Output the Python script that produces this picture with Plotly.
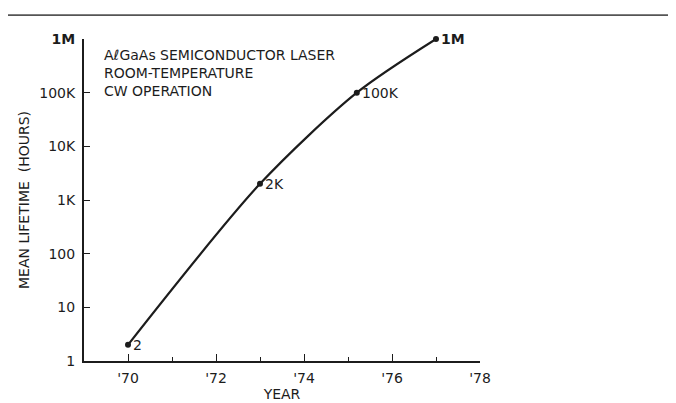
import plotly.graph_objects as go
import math

# data
years = [70.0, 73.0, 75.2, 77.0]
lifetime = [2, 2000, 100000, 1000000]
point_labels = ["2", "2K", "100K", "1M"]

x_ticks = [70, 72, 74, 76, 78]
x_ticktext = ["'70", "'72", "'74", "'76", "'78"]
y_ticks = [1, 10, 100, 1000, 10000, 100000, 1000000]
y_ticktext = ["1", "10", "100", "1K", "10K", "100K", "<b>1M</b>"]

ink = "#1c1c1c"
font_family = "DejaVu Sans, Verdana, sans-serif"

fig = go.Figure()
fig.add_trace(go.Scatter(
    x=years, y=lifetime, mode="lines+markers",
    line=dict(color=ink, width=2.2, shape="spline", smoothing=0.8),
    marker=dict(color=ink, size=6),
    cliponaxis=False,
    showlegend=False, hoverinfo="skip",
))

for xv, yv, lab in zip(years, lifetime, point_labels):
    fig.add_annotation(
        x=xv, y=math.log10(yv), xref="x", yref="y",
        text=("<b>%s</b>" % lab) if lab == "1M" else lab,
        showarrow=False, xanchor="left", yanchor="middle", xshift=3,
        font=dict(size=14, color=ink, family=font_family),
    )

fig.add_annotation(
    x=0.045, y=0.982, xref="paper", yref="paper", xanchor="left", yanchor="top",
    align="left", showarrow=False,
    text="A<i>ℓ</i>GaAs SEMICONDUCTOR LASER<br>ROOM-TEMPERATURE<br>CW OPERATION",
    font=dict(size=14, color=ink, family=font_family),
)

# document separator line at top
fig.add_shape(type="line", xref="paper", yref="paper",
              x0=-76 / 396, x1=600 / 396, y0=348 / 324, y1=348 / 324,
              line=dict(color="#555555", width=1.6))

fig.update_layout(
    width=676, height=403,
    margin=dict(l=76, r=204, t=31, b=48),
    paper_bgcolor="white", plot_bgcolor="white",
    font=dict(family=font_family, color=ink, size=14),
    xaxis=dict(
        range=[69, 78], tickvals=x_ticks, ticktext=x_ticktext,
        ticks="inside", ticklen=7, tickwidth=1.3, tickcolor=ink,
        showline=True, linecolor=ink, linewidth=2, showgrid=False, zeroline=False,
        minor=dict(dtick=1, ticks="inside", ticklen=4, tickcolor=ink, tickwidth=1.3, showgrid=False),
        title=dict(text="YEAR", font=dict(size=14), standoff=3),
        tickfont=dict(size=14), ticklabelstandoff=3,
    ),
    yaxis=dict(
        type="log", range=[0, 6], tickvals=y_ticks, ticktext=y_ticktext,
        ticks="inside", ticklen=6, tickwidth=1.3, tickcolor=ink,
        showline=True, linecolor=ink, linewidth=2, showgrid=False, zeroline=False,
        title=dict(text="MEAN LIFETIME  (HOURS)", font=dict(size=14), standoff=6),
        tickfont=dict(size=14), ticklabelstandoff=4,
    ),
)

fig.write_html("out.html")
